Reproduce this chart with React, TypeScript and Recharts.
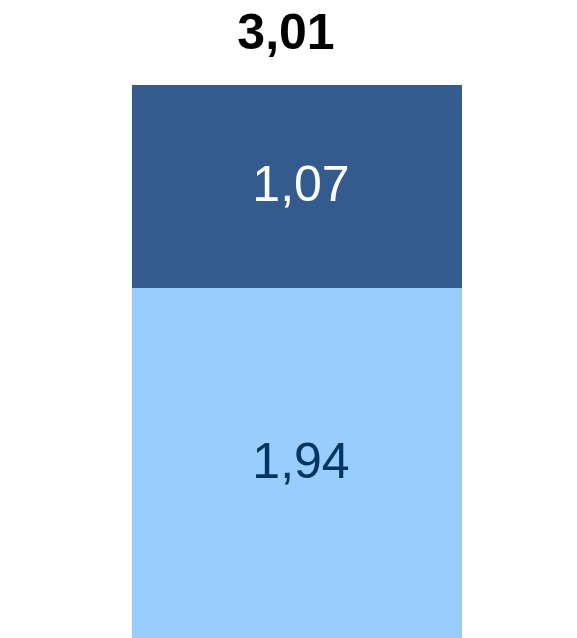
import React from "react";
import { BarChart, Bar, XAxis, YAxis, LabelList } from "recharts";

const categories = ["Total"];
const lowerValues = [1.94];
const upperValues = [1.07];
const totals = [3.01];

const data = categories.map((name, i) => ({
  name,
  lower: lowerValues[i],
  upper: upperValues[i],
}));

const fmt = (v: number) => v.toFixed(2).replace(".", ",");

const FONT = "'Liberation Sans', Arial, sans-serif";
const VISIBLE_H = 638;

// label centered in the visible part of a segment
const segLabel = (color: string) => (props: any) => {
  const { x, y, width, height, value } = props;
  const bottom = Math.min(y + height, VISIBLE_H);
  const mid = (y + bottom) / 2;
  return (
    <text
      x={x + width / 2 + 4}
      y={mid + 15}
      textAnchor="middle"
      fill={color}
      fontSize={50}
      fontFamily={FONT}
    >
      {fmt(value)}
    </text>
  );
};

export default function App() {
  return (
    <div
      style={{
        position: "absolute",
        left: 0,
        top: 0,
        width: 577,
        height: VISIBLE_H,
        overflow: "hidden",
        background: "#fff",
      }}
    >
      <svg width={577} height={70} style={{ position: "absolute", left: 0, top: 0 }}>
        <text
          x={286}
          y={49}
          textAnchor="middle"
          fontSize={50}
          fontWeight="bold"
          fontFamily={FONT}
          fill="#000"
        >
          {fmt(totals[0])}
        </text>
      </svg>
      <BarChart
        width={577}
        height={656}
        data={data}
        margin={{ top: 85, right: 115, bottom: 0, left: 132 }}
        barCategoryGap={0}
      >
        <XAxis dataKey="name" hide />
        <YAxis hide domain={[0, totals[0]]} />
        <Bar dataKey="lower" stackId="a" fill="#99ccff" isAnimationActive={false}>
          <LabelList dataKey="lower" content={segLabel("#003366")} />
        </Bar>
        <Bar dataKey="upper" stackId="a" fill="#335b8e" isAnimationActive={false}>
          <LabelList dataKey="upper" content={segLabel("#ffffff")} />
        </Bar>
      </BarChart>
    </div>
  );
}
